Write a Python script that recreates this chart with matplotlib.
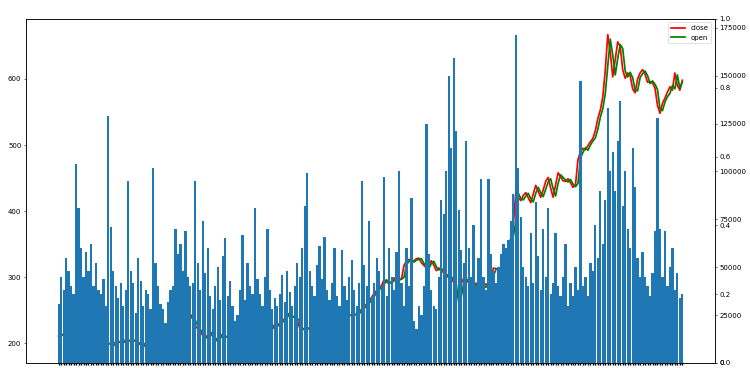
import numpy as np
import matplotlib
matplotlib.use("Agg")
import matplotlib.pyplot as plt
from matplotlib.ticker import MultipleLocator

# дневные котировки: закрытие, открытие, объём (тыс.)
close = [212, 213, 214, 222, 233, 229, 224, 216, 215, 217,
         218, 222, 229, 226, 222, 221, 215, 208, 202, 200,
         200, 199, 200, 202, 203, 201, 204, 205, 203, 205,
         205, 203, 200, 198, 199, 200, 202, 205, 207, 214,
         222, 226, 227, 225, 222, 221, 229, 236, 240, 244,
         243, 245, 242, 244, 236, 226, 222, 218, 212, 208,
         213, 218, 210, 203, 206, 214, 212, 211, 209, 210,
         210, 206, 203, 205, 204, 206, 208, 210, 212, 214,
         214, 215, 213, 215, 217, 221, 224, 229, 227, 231,
         233, 238, 246, 243, 240, 239, 236, 223, 222, 221,
         222, 224, 226, 225, 228, 233, 231, 230, 229, 236,
         245, 253, 250, 246, 247, 245, 243, 242, 244, 243,
         244, 248, 252, 256, 260, 264, 270, 276, 280, 284,
         288, 297, 293, 290, 294, 299, 297, 296, 298, 318,
         325, 327, 324, 325, 328, 329, 322, 318, 314, 320,
         325, 318, 310, 314, 312, 306, 300, 302, 298, 292,
         275, 268, 290, 299, 295, 292, 290, 289, 291, 288,
         287, 286, 290, 288, 300, 314, 313, 312, 312, 320,
         330, 342, 360, 380, 431, 420, 416, 424, 428, 420,
         413, 426, 439, 430, 421, 432, 445, 451, 435, 421,
         440, 458, 452, 446, 445, 449, 443, 436, 440, 478,
         490, 495, 493, 499, 505, 510, 522, 540, 553, 573,
         614, 667, 640, 603, 629, 656, 649, 614, 601, 609,
         605, 585, 579, 600, 609, 614, 607, 595, 596, 594,
         586, 560, 548, 563, 571, 580, 588, 583, 609, 590,
         583, 598]

open_ = [210, 212, 213, 215, 224, 232, 228, 222, 215, 216,
         217, 219, 223, 228, 225, 221, 220, 214, 207, 201,
         199, 200, 196, 200, 202, 203, 201, 203, 205, 203,
         204, 205, 202, 199, 194, 199, 200, 203, 205, 208,
         215, 223, 226, 226, 224, 222, 222, 230, 237, 241,
         244, 242, 245, 241, 243, 235, 226, 221, 217, 211,
         207, 214, 217, 209, 204, 207, 213, 211, 210, 208,
         211, 209, 205, 202, 205, 204, 207, 209, 211, 213,
         215, 213, 215, 212, 216, 218, 222, 225, 228, 226,
         232, 234, 239, 245, 242, 239, 238, 234, 224, 220,
         221, 223, 225, 227, 224, 229, 232, 229, 230, 228,
         237, 246, 252, 249, 245, 248, 244, 242, 243, 245,
         242, 245, 249, 253, 257, 261, 265, 271, 277, 281,
         285, 289, 296, 292, 291, 295, 298, 296, 297, 300,
         319, 324, 328, 323, 326, 327, 328, 321, 317, 313,
         321, 324, 316, 311, 313, 311, 305, 301, 301, 297,
         290, 262, 270, 291, 298, 294, 291, 290, 288, 290,
         289, 286, 285, 291, 289, 302, 312, 314, 311, 313,
         322, 331, 343, 362, 385, 427, 419, 417, 423, 427,
         419, 414, 427, 436, 428, 422, 433, 444, 449, 434,
         423, 442, 455, 451, 447, 444, 448, 441, 437, 442,
         480, 489, 496, 492, 500, 506, 511, 524, 542, 555,
         578, 620, 660, 636, 606, 631, 652, 646, 612, 603,
         610, 602, 583, 582, 602, 608, 612, 605, 593, 597,
         592, 584, 555, 552, 565, 573, 578, 590, 585, 606,
         586, 595]

volume_k = [31, 45, 38, 55, 48, 40, 36, 104, 81, 60,
            45, 58, 48, 62, 40, 52, 38, 36, 44, 30,
            129, 71, 48, 40, 34, 42, 30, 38, 95, 48,
            42, 26, 55, 43, 30, 38, 36, 28, 102, 52,
            40, 31, 28, 21, 32, 38, 40, 70, 57, 62,
            48, 69, 45, 40, 42, 95, 52, 38, 74, 47,
            60, 35, 28, 40, 50, 33, 56, 65, 35, 43,
            30, 22, 25, 38, 67, 33, 52, 40, 36, 81,
            44, 36, 30, 45, 70, 38, 28, 34, 30, 36,
            46, 32, 48, 37, 30, 40, 52, 45, 60, 82,
            99, 48, 40, 35, 51, 61, 44, 66, 38, 33,
            42, 60, 35, 30, 59, 40, 33, 45, 54, 38,
            30, 42, 95, 51, 40, 74, 35, 42, 55, 48,
            40, 97, 35, 60, 45, 38, 58, 100, 42, 30,
            60, 40, 86, 22, 18, 30, 25, 40, 125, 57,
            38, 30, 28, 45, 85, 78, 100, 150, 112, 159,
            121, 80, 59, 52, 116, 60, 45, 72, 40, 55,
            96, 45, 38, 96, 57, 48, 42, 50, 57, 62,
            60, 64, 74, 88, 171, 102, 76, 50, 45, 40,
            68, 42, 84, 56, 38, 70, 45, 81, 36, 42,
            68, 40, 35, 45, 62, 30, 42, 35, 50, 38,
            147, 40, 45, 35, 52, 48, 72, 55, 90, 62,
            85, 133, 100, 110, 90, 116, 137, 82, 100, 70,
            60, 112, 92, 55, 45, 58, 45, 40, 35, 47,
            69, 128, 70, 45, 69, 40, 50, 60, 38, 47,
            34, 36]

volume = np.array(volume_k) * 1000
x = np.arange(len(close))

fig = plt.figure(figsize=(15, 7.36), dpi=50)
ax1 = fig.add_axes([0.035, 0.0136, 0.918, 0.9348])
ax1.plot(x, close, color='red', lw=2.5, label='close')
ax1.plot(x, open_, color='green', lw=2.5, label='open')
ax1.legend(loc='upper right')
ax1.set_xticks(x)
ax1.set_xticklabels([''] * len(x))
ax1.tick_params(axis='x', width=2)

# объём поверх цены
ax2 = ax1.twinx()
ax2.bar(x, volume, width=0.9)
ax2.yaxis.set_major_locator(MultipleLocator(25000))

# лишняя пустая ось 0..1
ax3 = ax1.twinx()

plt.savefig('out.png', dpi=50)
